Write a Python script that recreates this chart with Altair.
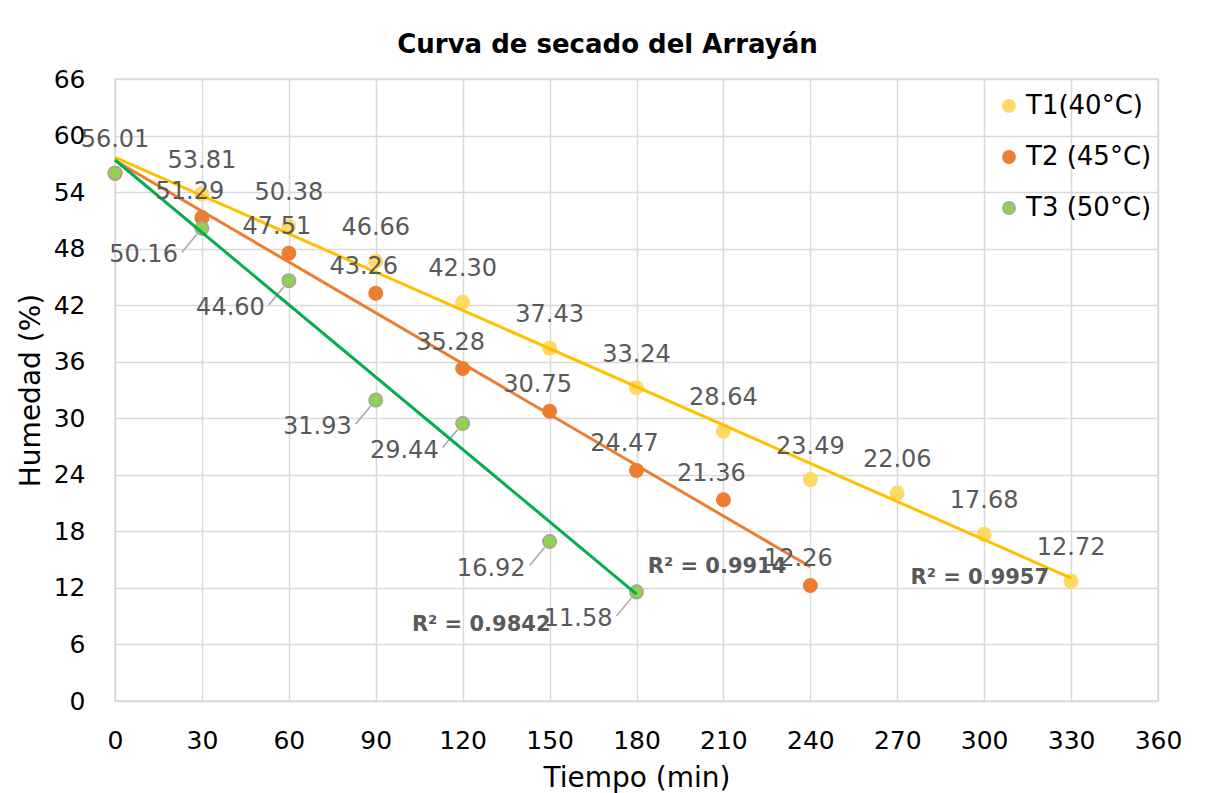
import altair as alt
import pandas as pd

# ---- data ----
series_names = ["T1(40°C)", "T2 (45°C)", "T3 (50°C)"]
t1_time = [0, 30, 60, 90, 120, 150, 180, 210, 240, 270, 300, 330]
t1_hum = [56.01, 53.81, 50.38, 46.66, 42.30, 37.43, 33.24, 28.64, 23.49, 22.06, 17.68, 12.72]
t2_time = [0, 30, 60, 90, 120, 150, 180, 210, 240]
t2_hum = [56.01, 51.29, 47.51, 43.26, 35.28, 30.75, 24.47, 21.36, 12.26]
t3_time = [0, 30, 60, 90, 120, 150, 180]
t3_hum = [56.01, 50.16, 44.60, 31.93, 29.44, 16.92, 11.58]
r2_labels = ["R² = 0.9957", "R² = 0.9914", "R² = 0.9842"]
x_ticks = list(range(0, 361, 30))
y_ticks = list(range(0, 67, 6))

rows = []
for name, ts, hs in zip(series_names, [t1_time, t2_time, t3_time], [t1_hum, t2_hum, t3_hum]):
    for t, h in zip(ts, hs):
        rows.append({"serie": name, "t": t, "h": h})
df = pd.DataFrame(rows)

FONT = "DejaVu Sans"
point_fill = ["#FFD966", "#ED7D31", "#92D050"]
point_stroke = ["#FFD966", "#ED7D31", "#A5A5A5"]
line_col = ["#FFC000", "#ED7D31", "#00B050"]

xs = alt.Scale(domain=[0, 360], nice=False)
ys = alt.Scale(domain=[0, 66], nice=False)

base = alt.Chart(df)

X = alt.X("t:Q", scale=xs, title="Tiempo (min)",
          axis=alt.Axis(values=x_ticks, labelFlush=False))
Y = alt.Y("h:Q", scale=ys, title="Humedad (%)",
          axis=alt.Axis(values=y_ticks, labelFlush=False))

leg = dict(title=None, orient="none", legendX=881, legendY=14,
           labelFontSize=26, labelFont=FONT, labelColor="#000000",
           symbolSize=150, rowPadding=25, labelOffset=4, symbolStrokeWidth=1.6)

points = base.mark_point(filled=True, size=180, strokeWidth=1.6, opacity=1).encode(
    x=X, y=Y,
    fill=alt.Fill("serie:N", scale=alt.Scale(domain=series_names, range=point_fill),
                  legend=alt.Legend(**leg)),
    stroke=alt.Stroke("serie:N", scale=alt.Scale(domain=series_names, range=point_stroke),
                      legend=alt.Legend(**leg)),
    order=alt.Order("serie:N"),
)

trend = base.transform_regression("t", "h", groupby=["serie"]).mark_line(strokeWidth=3).encode(
    x="t:Q", y="h:Q",
    color=alt.Color("serie:N", scale=alt.Scale(domain=series_names, range=line_col), legend=None),
)

lab_common = dict(fontSize=24, font=FONT, color="#595959", baseline="middle")
lab1 = base.transform_filter(alt.datum.serie == series_names[0]).mark_text(
    align="center", dy=-33, **lab_common).encode(
    x="t:Q", y="h:Q", text=alt.Text("h:Q", format=".2f"))
lab2 = base.transform_filter((alt.datum.serie == series_names[1]) & (alt.datum.t > 0)).mark_text(
    align="center", dx=-12, dy=-26, **lab_common).encode(
    x="t:Q", y="h:Q", text=alt.Text("h:Q", format=".2f"))
t3_base = base.transform_filter((alt.datum.serie == series_names[2]) & (alt.datum.t > 0))
lab3 = t3_base.mark_text(align="right", dx=-24, dy=27, **lab_common).encode(
    x="t:Q", y="h:Q", text=alt.Text("h:Q", format=".2f"))
leader3 = t3_base.mark_rule(color="#A6A6A6", strokeWidth=1.5, xOffset=-20, yOffset=24,
                            x2Offset=-5, y2Offset=6).encode(
    x="t:Q", y="h:Q", x2="t:Q", y2="h:Q")


def r2_layer(i, dx, dy):
    # anchor the R² text at the right end of the least-squares trend line
    return (base.transform_filter(alt.datum.serie == series_names[i])
            .transform_calculate(th="datum.t*datum.h", tt="datum.t*datum.t")
            .transform_aggregate(n="count()", st="sum(t)", sh="sum(h)", sth="sum(th)",
                                 stt="sum(tt)", tmax="max(t)", groupby=["serie"])
            .transform_calculate(
                slope="(datum.n*datum.sth - datum.st*datum.sh)/(datum.n*datum.stt - datum.st*datum.st)")
            .transform_calculate(icpt="(datum.sh - datum.slope*datum.st)/datum.n")
            .transform_calculate(yend="datum.icpt + datum.slope*datum.tmax")
            .mark_text(align="right", baseline="middle", fontWeight="bold", fontSize=21,
                       font=FONT, color="#595959", dx=dx, dy=dy, text=r2_labels[i])
            .encode(x="tmax:Q", y="yend:Q"))


r2 = alt.layer(r2_layer(0, -22, 0), r2_layer(1, -24, 0), r2_layer(2, -86, 31))

chart = alt.layer(leader3, points, trend, lab1, lab2, lab3, r2).resolve_scale(
    color="independent"
).properties(
    width=1043, height=622,
    title=alt.TitleParams("Curva de secado del Arrayán", fontSize=26, font=FONT,
                          fontWeight="bold", color="#000000", offset=9, dx=-29),
    padding={"left": 9, "top": 24, "right": 4, "bottom": 5},
).configure_axis(
    gridColor="#D9D9D9", gridWidth=1.5, domain=False, ticks=False,
    labelFont=FONT, labelFontSize=25, labelColor="#000000",
    titleFont=FONT, titleFontSize=28, titleFontWeight="normal", titleColor="#000000",
).configure_axisY(labelPadding=30, titlePadding=8).configure_axisX(
    labelPadding=27, titlePadding=11
).configure_view(stroke="#D9D9D9", strokeWidth=1.5)

chart.save("out.html", embed_options={"renderer": "svg", "actions": False})
